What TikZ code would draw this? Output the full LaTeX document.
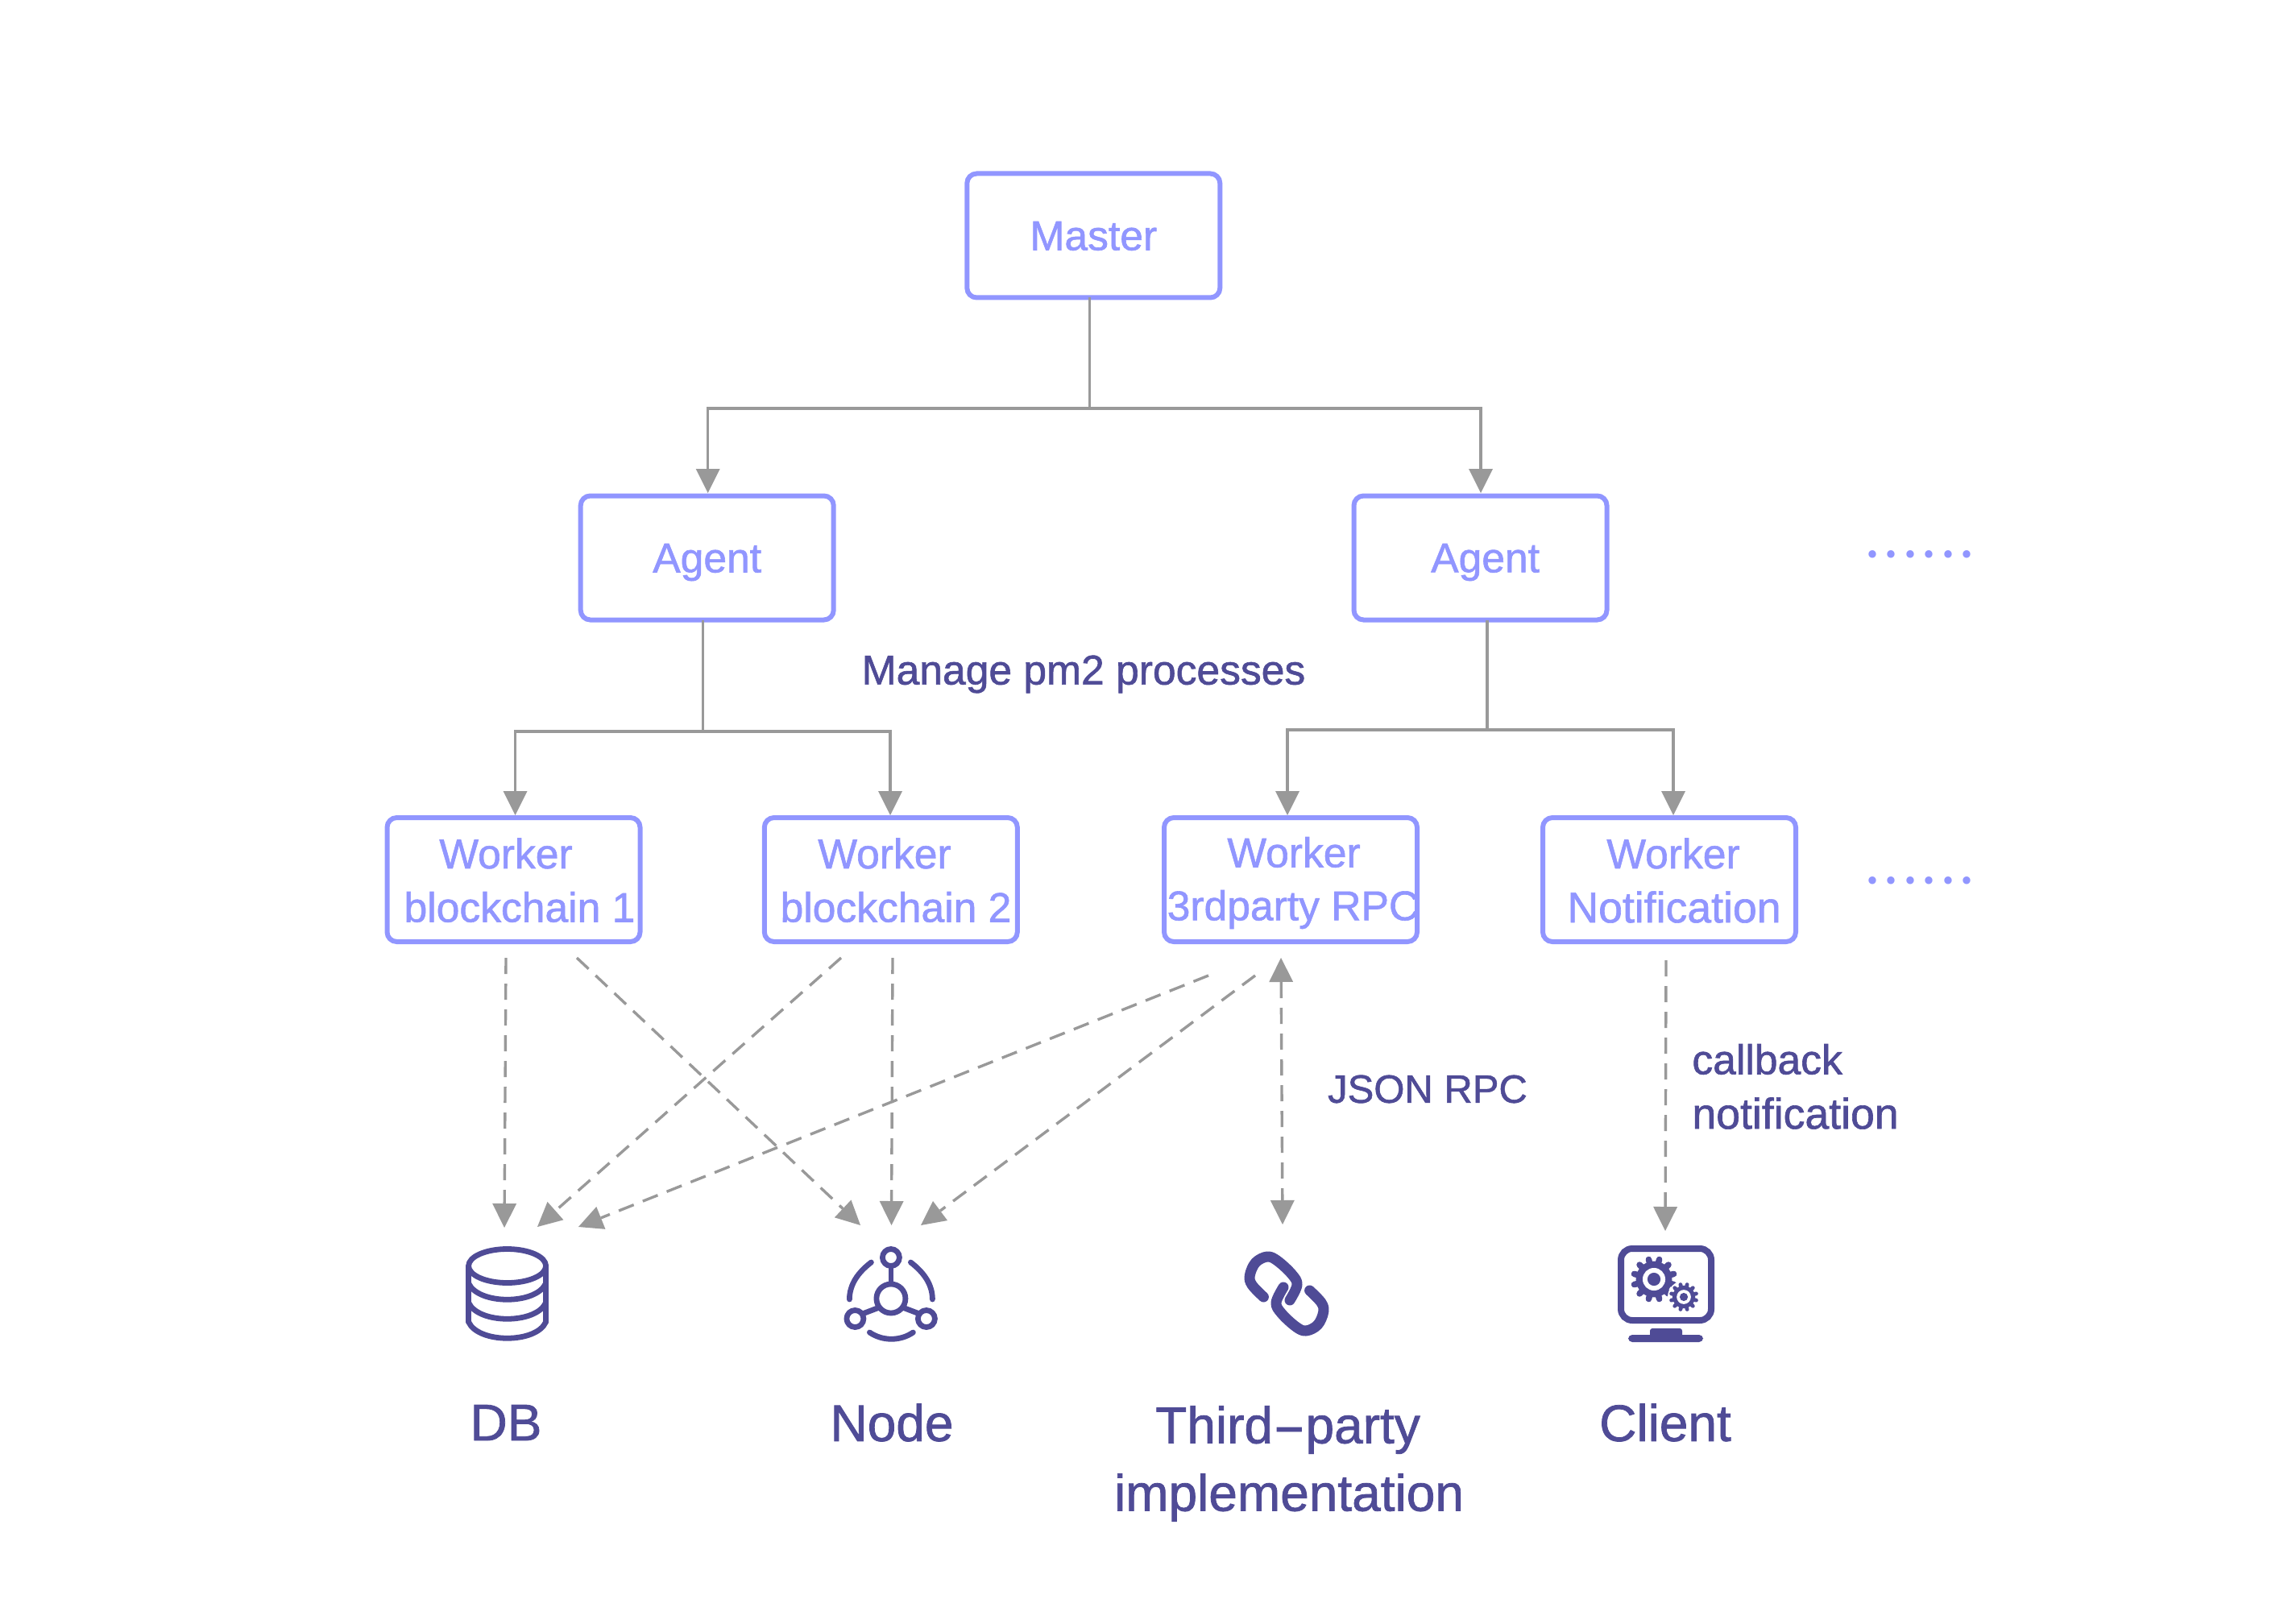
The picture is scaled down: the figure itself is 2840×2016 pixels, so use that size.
\documentclass[tikz,border=0pt]{standalone}
\usepackage{fontspec}
\setmainfont{Liberation Sans}
\newfontfamily\medf{Liberation Sans}[FakeBold=1.2]
\newfontfamily\dotf{Poppins}[LetterSpace=10]
\usetikzlibrary{arrows.meta}
\definecolor{boxc}{HTML}{9196FF}
\definecolor{darkc}{HTML}{4F4B96}
\definecolor{linec}{HTML}{999999}
\tikzset{
  boxn/.style={draw=boxc,line width=3pt,rounded corners=6pt,minimum width=157pt,minimum height=77pt,inner sep=0pt,outer sep=0pt,text=boxc,text height=18pt,text depth=0pt,font=\medf\fontsize{25.8}{30}\selectfont},
  boxt/.style={text=boxc,inner sep=0pt,font=\medf\fontsize{25.8}{30}\selectfont},
  lab/.style={text=darkc,inner sep=0pt,font=\medf\fontsize{25.8}{30}\selectfont},
  big/.style={text=darkc,inner sep=0pt,font=\medf\fontsize{32}{36}\selectfont},
  dotsn/.style={text=boxc,inner sep=0pt,anchor=base,font=\dotf\fontsize{38}{44}\selectfont},
  conn/.style={draw=linec,line width=1.7pt},
  tipd/.style={-{Triangle[width=15pt,length=15pt,line width=0pt]}},
  arr/.style={conn,tipd},
  dashc/.style={conn,tipd,dash pattern=on 10pt off 6pt},
  dashb/.style={conn,{Triangle[width=15pt,length=15pt,line width=0pt]}-{Triangle[width=15pt,length=15pt,line width=0pt]},dash pattern=on 10pt off 6pt},
  iconl/.style={draw=darkc,line width=3.4pt,line cap=round,line join=round},
}
\newcommand{\mygear}[2]{% center, radius
  \fill[darkc] (#1) circle[radius=#2*0.83];
  \foreach \a in {0,30,...,330}{
    \draw[darkc,line width=#2*0.14pt,line cap=round] (#1) ++(\a+15:#2*0.7) -- ++(\a+15:#2*0.24);
  }
  \fill[white] (#1) circle[radius=#2*0.52];
  \fill[darkc] (#1) circle[radius=#2*0.3];
}
\begin{document}
\begin{tikzpicture}[x=0.5pt,y=-0.5pt]
\useasboundingbox (0,0) rectangle (2840,2016);
% boxes
\node[boxn] (master) at (1357.3,292.5) {Master};
\node[boxn] (agentl) at (877.7,692.5) {Agent};
\node[boxn] (agentr) at (1837.5,692.5) {};
\node[boxt] (agentrt) at (1843.6,698) {Agent};
\node[boxn] (w1) at (637.5,1092) {};
\node[boxn] (w2) at (1105.8,1092) {};
\node[boxn] (w3) at (1602,1092) {};
\node[boxn] (w4) at (2072,1092) {};
\node[boxt] (w1a) at (628,1059.5) {Worker};
\node[boxt] (w1b) at (645,1126) {blockchain 1};
\node[boxt] (w2a) at (1098,1059.5) {Worker};
\node[boxt] (w2b) at (1112,1126) {blockchain 2};
\node[boxt] (w3a) at (1606,1058) {Worker};
\node[boxt] (w3b) at (1605,1129) {3rdparty RPC};
\node[boxt] (w4a) at (2077,1059.5) {Worker};
\node[boxt,font=\medf\fontsize{26.8}{30}\selectfont] (w4b) at (2078,1126) {Notification};
% labels
\node[lab] (mng) at (1345,837) {Manage pm2 processes};
\node[lab,font=\medf\fontsize{24.5}{30}\selectfont] (json) at (1772,1352) {JSON RPC};
\node[lab,anchor=west] (cb1) at (2100,1315) {callback};
\node[lab,anchor=west,font=\medf\fontsize{26.8}{30}\selectfont] (cb2) at (2100,1382) {notification};
\node[big] (db) at (628,1766) {DB};
\node[big] (nodet) at (1107,1766) {Node};
\node[big] (third1) at (1598.5,1775) {Third\scalebox{1.9}[1]{-}party};
\node[big] (third2) at (1600,1859) {implementation};
\node[big] (client) at (2067,1766) {Client};
\node[dotsn] (d1) at (2383,692) {......};
\node[dotsn] (d2) at (2383,1097) {......};
% junctions
\coordinate (jm) at (1352.5,507);
\coordinate (jl) at (872.7,908);
\coordinate (jr) at (1846,906);
\coordinate (ma) at (878.7,612);
\coordinate (mb) at (1838,612);
\coordinate (la) at (639.6,1012);
\coordinate (lb) at (1105,1012);
\coordinate (ra) at (1598,1012);
\coordinate (rb) at (2077,1012);
% tree connectors
\draw[conn] (jm |- master.south) -- (jm);
\draw[arr] (jm) -| (ma);
\draw[arr] (jm) -| (mb);
\draw[conn] (jl |- agentl.south) -- (jl);
\draw[arr] (jl) -| (la);
\draw[arr] (jl) -| (lb);
\draw[conn] (jr |- agentr.south) -- (jr);
\draw[arr] (jr) -| (ra);
\draw[arr] (jr) -| (rb);
% dashed connectors
\coordinate (s1) at (628,1189);
\coordinate (s2) at (716,1189);
\coordinate (s3) at (1044,1189);
\coordinate (s4) at (1108,1189);
\coordinate (s5) at (1500,1211);
\coordinate (s6) at (1558,1211);
\coordinate (s7) at (1590,1189);
\coordinate (s8) at (2068,1192);
\coordinate (e1) at (626,1524);
\coordinate (e2) at (1068,1521);
\coordinate (e3) at (667,1523);
\coordinate (e4) at (1106.5,1521);
\coordinate (e5) at (718,1523);
\coordinate (e6) at (1143,1521);
\coordinate (e7) at (1592,1520);
\coordinate (e8) at (2067,1528);
\draw[dashc] (s1) -- (e1);
\draw[dashc] (s2) -- (e2);
\draw[dashc] (s3) -- (e3);
\draw[dashc] (s4) -- (e4);
\draw[dashc] (s5) -- (e5);
\draw[dashc] (s6) -- (e6);
\draw[dashb] (s7) -- (e7);
\draw[dashc] (s8) -- (e8);
% DB icon
\begin{scope}[iconl,xshift=0.3pt]
  \draw (629,1571.5) ellipse[x radius=48,y radius=21];
  \draw (581,1571.5) -- (581,1641) (677,1571.5) -- (677,1641);
  \draw (581,1593) .. controls (593,1620) and (665,1620) .. (677,1593);
  \draw (581,1617) .. controls (593,1644) and (665,1644) .. (677,1617);
  \draw (581,1641) .. controls (593,1668) and (665,1668) .. (677,1641);
\end{scope}
% Node icon
\begin{scope}[iconl,xshift=-1.3pt]
  \draw (1108.5,1612) circle[radius=18];
  \draw (1108.5,1561) circle[radius=10.5];
  \draw (1064,1637) circle[radius=10.5];
  \draw (1152.5,1637) circle[radius=10.5];
  \draw[line cap=butt] (1108.5,1594) -- (1108.5,1571.5);
  \draw[line cap=butt] (1094,1623) -- (1073,1631);
  \draw[line cap=butt] (1123,1623) -- (1144,1631);
  \draw (1084,1567) .. controls (1067,1580) and (1057,1595) .. (1057,1613);
  \draw (1133,1567) .. controls (1150,1580) and (1160,1595) .. (1160,1613);
  \draw (1082,1654) .. controls (1098,1665) and (1120,1665) .. (1136,1654);
\end{scope}
% Link icon
\foreach \r in {0,180}{
  \draw[darkc,line width=6.5pt,line cap=round,line join=round,rotate around={\r:(1597,1606)}]
    plot[smooth,tension=0.6] coordinates {(1568.4,1610) (1554,1595) (1551.3,1583.3) (1558.5,1567.3) (1572.9,1560) (1585.4,1565) (1603.4,1581.7) (1610,1595) (1601,1614)};
}
% Client icon
\begin{scope}[xshift=-1.5pt]
\draw[darkc,line width=4pt,rounded corners=7pt] (2015,1550) rectangle (2127,1639);
\fill[darkc,rounded corners=1.5pt] (2051,1660) rectangle (2091,1649);
\fill[darkc,rounded corners=2.5pt] (2024,1657) rectangle (2117,1666);
\mygear{2056,1588}{27}
\fill[white] (2093,1610) circle[radius=20];
\mygear{2093,1610}{17}
\end{scope}
\end{tikzpicture}
\end{document}
